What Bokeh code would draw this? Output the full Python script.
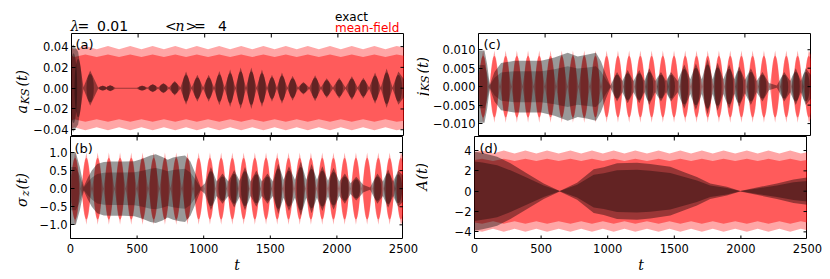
import math
from bokeh.plotting import figure
from bokeh.models import Range1d, FixedTicker, Label
from bokeh.layouts import row, column
from bokeh.embed import file_html
from bokeh.resources import INLINE

# ---------------- data ----------------
X_TICKS = [0, 500, 1000, 1500, 2000, 2500]
X_LABELS = ["0", "500", "1000", "1500", "2000", "2500"]

A_TICKS = [-0.04, -0.02, 0.0, 0.02, 0.04]
A_LABELS = ["\u22120.04", "\u22120.02", "0.00", "0.02", "0.04"]
B_TICKS = [-1.0, -0.5, 0.0, 0.5, 1.0]
B_LABELS = ["\u22121.0", "\u22120.5", "0.0", "0.5", "1.0"]
C_TICKS = [-0.01, -0.005, 0.0, 0.005, 0.01]
C_LABELS = ["\u22120.010", "\u22120.005", "0.000", "0.005", "0.010"]
D_TICKS = [-4, -2, 0, 2, 4]
D_LABELS = ["\u22124", "\u22122", "0", "2", "4"]

# (a) mean-field envelope (ripple)
A_RED_T = [0, 20, 104, 189, 274, 357, 441, 525, 609, 694, 779, 860, 941, 1025, 1109, 1191,
           1274, 1357, 1441, 1525, 1609, 1691, 1774, 1857, 1941, 2022, 2104, 2189, 2274, 2357, 2441, 2500]
A_RED_AMP = [0.039, 0.0375, 0.0405, 0.0375, 0.0405, 0.0375, 0.0405, 0.0375, 0.0405, 0.0375, 0.0405,
             0.0375, 0.0405, 0.0375, 0.0405, 0.0375, 0.0405, 0.0375, 0.0405, 0.0375, 0.0405, 0.0375,
             0.0405, 0.0375, 0.0405, 0.0375, 0.0405, 0.0375, 0.0405, 0.0375, 0.0405, 0.039]
# (a) exact: beat lobes
A_BLK_PEAK_T = [15, 50, 140, 235, 290, 530, 610, 690, 775, 860, 945, 1030, 1110, 1191, 1270, 1350,
                1430, 1505, 1580, 1660, 1741, 1829, 1916, 2010, 2105, 2191, 2279, 2366, 2454]
A_BLK_PEAK_AMP = [0.042, 0.035, 0.017, 0.0025, 0.003, 0.0025, 0.004, 0.005, 0.007, 0.016, 0.013,
                  0.013, 0.0165, 0.018, 0.020, 0.020, 0.018, 0.013, 0.015, 0.012, 0.006, 0.0125,
                  0.0095, 0.010, 0.0115, 0.010, 0.015, 0.019, 0.016]
A_BLK_NODE_T = [0, 90, 200, 262, 330, 420, 490, 570, 650, 732, 818, 902, 988, 1070, 1150, 1230,
                1310, 1390, 1468, 1542, 1620, 1700, 1785, 1872, 1963, 2057, 2148, 2235, 2322, 2410, 2500]
A_BLK_NODE_AMP = [0.040, 0.0008, 0.0006, 0.0008, 0.0005, 0.0005, 0.0005, 0.0006, 0.0006, 0.0006,
                  0.0006, 0.0006, 0.0006, 0.0006, 0.0006, 0.0006, 0.0006, 0.0006, 0.0006, 0.0006,
                  0.0006, 0.0006, 0.0006, 0.0006, 0.0006, 0.0006, 0.0006, 0.0006, 0.0006, 0.0006, 0.008]

# (b),(c) mean-field lobes (shared times)
RED_LOBE_T = [35, 119, 204, 288, 372, 456, 541, 625, 709, 794, 878, 962, 1047, 1131, 1215, 1300,
              1384, 1468, 1552, 1637, 1721, 1805, 1890, 1974, 2058, 2143, 2227, 2311, 2396, 2480]
RED_NODE_T = [0, 77, 161, 246, 330, 414, 498, 583, 667, 751, 836, 920, 1004, 1089, 1173, 1257,
              1342, 1426, 1510, 1594, 1679, 1763, 1847, 1932, 2016, 2100, 2185, 2269, 2353, 2438, 2500]
B_RED_LOBE_AMP = [1.0, 1.0, 1.0, 1.0, 1.0, 1.0, 1.0, 1.0, 1.0, 1.0, 1.0, 1.0, 1.0, 1.0, 1.0,
                  1.0, 1.0, 1.0, 1.0, 1.0, 1.0, 1.0, 1.0, 1.0, 1.0, 1.0, 1.0, 1.0, 1.0, 1.0]
B_RED_NODE_AMP = [0.3, 0, 0, 0, 0, 0, 0, 0, 0, 0, 0, 0, 0, 0, 0, 0, 0, 0, 0, 0, 0, 0, 0, 0, 0,
                  0, 0, 0, 0, 0, 0.85]
C_RED_LOBE_AMP = [0.0098, 0.0098, 0.0098, 0.0098, 0.0098, 0.0098, 0.0098, 0.0098, 0.0098, 0.0098,
                  0.0098, 0.0098, 0.0098, 0.0098, 0.0098, 0.0098, 0.0098, 0.0098, 0.0098, 0.0098,
                  0.0098, 0.0098, 0.0098, 0.0098, 0.0098, 0.0098, 0.0098, 0.0098, 0.0098, 0.0098]
C_RED_NODE_AMP = [0.003, 0, 0, 0, 0, 0, 0, 0, 0, 0, 0, 0, 0, 0, 0, 0, 0, 0, 0, 0, 0, 0, 0, 0, 0,
                  0, 0, 0, 0, 0, 0.0083]

# (b) exact
B_BLK_BAND_T = [0, 40, 70, 100, 130, 160, 200, 250, 300, 400, 480, 540, 600, 640, 690, 730, 770,
                820, 860, 900, 940, 978]
B_BLK_BAND_AMP = [1.0, 1.0, 0.6, 0.06, 0.3, 0.5, 0.68, 0.74, 0.75, 0.75, 0.76, 0.83, 0.92, 0.95,
                  0.88, 0.80, 0.86, 0.90, 0.92, 0.75, 0.40, 0.04]
B_BLK_PEAK_T = [1054, 1141, 1229, 1310, 1395, 1479, 1560, 1640, 1729, 1810, 1891, 1975, 2060, 2145,
                2304, 2385, 2460]
B_BLK_PEAK_AMP = [0.6, 0.42, 0.52, 0.6, 0.5, 0.42, 0.7, 0.62, 0.75, 0.68, 0.62, 0.58, 0.42, 0.33,
                  0.42, 0.53, 0.5]
B_BLK_NODE_T = [1010, 1098, 1185, 1270, 1352, 1437, 1520, 1600, 1685, 1770, 1850, 1933, 2018, 2103,
                2200, 2249, 2345, 2422, 2500]
B_BLK_NODE_AMP = [0.15, 0.2, 0.2, 0.22, 0.2, 0.2, 0.2, 0.25, 0.25, 0.25, 0.25, 0.22, 0.2, 0.15,
                  0.1, 0.03, 0.2, 0.2, 0.35]

# (c) exact
C_BLK_BAND_T = [0, 45, 65, 85, 120, 170, 270, 470, 570, 670, 745, 820, 882, 920, 957, 990]
C_BLK_BAND_AMP = [0.0098, 0.0098, 0.006, 0.0005, 0.004, 0.0064, 0.0070, 0.0070, 0.0079, 0.0092,
                  0.0082, 0.0087, 0.0092, 0.0068, 0.0032, 0.0003]
C_BLK_PEAK_T = [1040, 1120, 1207, 1282, 1370, 1445, 1545, 1632, 1720, 1795, 1882, 1957, 2045, 2132,
                2295, 2382, 2457]
C_BLK_PEAK_AMP = [0.004, 0.0045, 0.0045, 0.005, 0.004, 0.004, 0.006, 0.0063, 0.0075, 0.0065, 0.006,
                  0.0055, 0.005, 0.004, 0.004, 0.005, 0.005]
C_BLK_NODE_T = [1080, 1163, 1245, 1326, 1408, 1495, 1590, 1676, 1758, 1838, 1920, 2000, 2088, 2180,
                2240, 2340, 2420, 2500]
C_BLK_NODE_AMP = [0.0015, 0.0015, 0.0015, 0.0015, 0.0015, 0.0015, 0.002, 0.002, 0.002, 0.002, 0.002,
                  0.0018, 0.0015, 0.001, 0.0003, 0.0015, 0.0015, 0.003]

# (d) mean-field envelope (ripple) and exact envelope
D_RED_T = [0, 57, 139, 220, 301, 382, 464, 545, 632, 720, 801, 882, 964, 1045, 1126, 1207, 1295,
           1382, 1464, 1545, 1626, 1707, 1789, 1870, 1957, 2045, 2126, 2207, 2289, 2370, 2450, 2500]
D_RED_AMP = [3.85, 4.0, 3.7, 4.0, 3.7, 4.0, 3.7, 4.0, 3.7, 4.0, 3.7, 4.0, 3.7, 4.0, 3.7, 4.0, 3.7,
             4.0, 3.7, 4.0, 3.7, 4.0, 3.7, 4.0, 3.7, 4.0, 3.7, 4.0, 3.7, 4.0, 3.7, 3.85]
D_BLK_T = [0, 60, 120, 170, 270, 395, 520, 640, 770, 895, 970, 1070, 1220, 1320, 1470, 1570, 1670,
           1770, 1895, 1995, 2145, 2270, 2395, 2500]
D_BLK_AMP = [3.9, 3.75, 3.57, 3.4, 2.74, 1.75, 0.76, 0.02, 0.83, 2.15, 2.35, 2.74, 2.8, 2.68, 2.4,
             1.9, 1.4, 0.76, 0.43, 0.02, 0.43, 0.76, 1.16, 1.35]

# ---------------- styles ----------------
RED = "#ff0000"
BLK = "#000000"
RED_OUT, RED_CORE = 0.35, 0.45
BLK_OUT, BLK_CORE = 0.40, 0.35
FRAME_W, FRAME_H = 333, 103
TICK_PX = 4
SANS = "DejaVu Sans"
SERIF = "DejaVu Serif"
TICK_FONT = "11.5px"
UP = math.pi / 2

HDR_H = 33    # strip above the top panels
YL_L = 30     # strip holding the left y labels
LEFT_A = 40   # room for the tick labels of (a), (b)
YL_R = 25     # strip holding the right y labels
LEFT_C = 46   # room for the tick labels of (c), (d)


def noalign(p):
    try:
        p.frame_align = False
    except Exception:
        pass
    return p


def merged(*series):
    pts = sorted(p for ts, amps in series for p in zip(ts, amps))
    return [p[0] for p in pts], [p[1] for p in pts]


def band(p, t, amp, color, alpha, scale=1.0):
    p.varea(x=t, y1=[-a * scale for a in amp], y2=[a * scale for a in amp],
            fill_color=color, fill_alpha=alpha)


def cores(p, t, amp, color, alpha, width, scale):
    p.ellipse(x=t, y=[0] * len(t), width=width, height=[2 * a * scale for a in amp],
              fill_color=color, fill_alpha=alpha, line_color=None)


def style_axis(ax, ticks, labels, tick_len):
    ax.ticker = FixedTicker(ticks=ticks)
    ax.major_label_overrides = {k: v for k, v in zip(ticks, labels)}
    ax.major_tick_in = tick_len
    ax.major_tick_out = 0
    ax.minor_tick_in = 0
    ax.minor_tick_out = 0
    ax.major_tick_line_color = "black"
    ax.major_tick_line_width = 1
    ax.axis_line_color = None
    ax.major_label_text_font = SANS
    ax.major_label_text_color = "black"
    ax.major_label_text_font_size = TICK_FONT
    ax.major_label_standoff = 3


def panel(yr, yticks, ylabels, left):
    p = figure(frame_width=FRAME_W, frame_height=FRAME_H,
               x_range=Range1d(0, 2500), y_range=Range1d(*yr),
               x_axis_location=None,
               output_backend="svg", toolbar_location=None,
               min_border_left=left, min_border_right=0,
               min_border_top=0, min_border_bottom=0)
    noalign(p)
    p.grid.visible = False
    p.outline_line_color = "black"
    p.outline_line_width = 1
    p.outline_line_alpha = 1
    p.background_fill_color = "white"
    p.border_fill_color = "white"
    style_axis(p.yaxis[0], yticks, ylabels, TICK_PX)
    return p


def frame_ticks(p, yr, yticks):
    """Inward tick marks on the top, bottom and right edges of the frame."""
    y0, y1 = yr
    n = len(X_TICKS)
    dy = TICK_PX * (y1 - y0) / FRAME_H
    dx = TICK_PX * 2500 / FRAME_W
    p.segment(x0=X_TICKS, x1=X_TICKS, y0=[y1] * n, y1=[y1 - dy] * n, line_color="black", line_width=1)
    p.segment(x0=X_TICKS, x1=X_TICKS, y0=[y0] * n, y1=[y0 + dy] * n, line_color="black", line_width=1)
    m = len(yticks)
    p.segment(x0=[2500] * m, x1=[2500 - dx] * m, y0=yticks, y1=yticks, line_color="black", line_width=1)


def xaxis_fig(left, right):
    f = figure(frame_width=FRAME_W, frame_height=1, x_range=Range1d(0, 2500), y_range=Range1d(0, 1),
               y_axis_location=None, output_backend="svg", toolbar_location=None,
               min_border_left=left, min_border_right=right, min_border_top=0, min_border_bottom=31)
    noalign(f)
    f.grid.visible = False
    f.outline_line_color = None
    f.background_fill_color = "white"
    f.border_fill_color = "white"
    ax = f.xaxis[0]
    style_axis(ax, X_TICKS, X_LABELS, 0)
    ax.major_tick_line_color = None
    ax.major_label_standoff = 3
    ax.axis_label = "t"
    ax.axis_label_text_font = SERIF
    ax.axis_label_text_font_style = "italic"
    ax.axis_label_text_font_size = "14px"
    ax.axis_label_text_color = "black"
    ax.axis_label_standoff = 1
    return f


def text_fig(w, h):
    f = figure(width=w, height=h, x_range=Range1d(0, 1), y_range=Range1d(0, 1),
               x_axis_location=None, y_axis_location=None,
               output_backend="svg", toolbar_location=None,
               min_border_left=0, min_border_right=0, min_border_top=0, min_border_bottom=0)
    noalign(f)
    f.grid.visible = False
    f.outline_line_color = None
    f.background_fill_color = "white"
    f.border_fill_color = "white"
    return f


def lab(p, x, y, text, font=SANS, size="12px", style="normal", color="black",
        angle=0.0, baseline="alphabetic", align="left"):
    p.add_layout(Label(x=x, y=y, x_units="screen", y_units="screen", text=text,
                       text_font=font, text_font_size=size, text_font_style=style,
                       text_color=color, angle=angle, text_baseline=baseline,
                       text_align=align))


def vlab(p, x, y_end, text, size="14px"):
    """Upright-reading (rotated) piece of a y label; y_end is where the piece ends."""
    lab(p, x, y_end, text, font=SERIF, size=size, style="italic", angle=UP, align="right")


A_YR = (-0.0465, 0.0526)
B_YR = (-1.406, 1.444)
C_YR = (-0.0135, 0.0144)
D_YR = (-4.75, 5.38)

# ---------------- panel (a) ----------------
pa = panel(A_YR, A_TICKS, A_LABELS, LEFT_A)
band(pa, A_RED_T, A_RED_AMP, RED, RED_OUT)
band(pa, A_RED_T, A_RED_AMP, RED, RED_CORE, 0.8)
t, a = merged((A_BLK_PEAK_T, A_BLK_PEAK_AMP), (A_BLK_NODE_T, A_BLK_NODE_AMP))
band(pa, t, a, BLK, BLK_OUT)
cores(pa, A_BLK_PEAK_T, A_BLK_PEAK_AMP, BLK, BLK_CORE, 55, 0.8)
frame_ticks(pa, A_YR, A_TICKS)
lab(pa, 4, 99.5, "(a)", size="13px", baseline="top")

# ---------------- panel (b) ----------------
pb = panel(B_YR, B_TICKS, B_LABELS, LEFT_A)
t, a = merged((RED_LOBE_T, B_RED_LOBE_AMP), (RED_NODE_T, B_RED_NODE_AMP))
band(pb, t, a, RED, RED_OUT)
cores(pb, RED_LOBE_T, B_RED_LOBE_AMP, RED, RED_CORE, 58, 0.85)
t, a = merged((B_BLK_BAND_T, B_BLK_BAND_AMP), (B_BLK_PEAK_T, B_BLK_PEAK_AMP),
              (B_BLK_NODE_T, B_BLK_NODE_AMP))
band(pb, t, a, BLK, BLK_OUT)
band(pb, B_BLK_BAND_T, B_BLK_BAND_AMP, BLK, 0.25, 0.6)
cores(pb, B_BLK_PEAK_T, B_BLK_PEAK_AMP, BLK, BLK_CORE, 60, 0.8)
frame_ticks(pb, B_YR, B_TICKS)
lab(pb, 4, 99, "(b)", size="13px", baseline="top")

# ---------------- panel (c) ----------------
pc = panel(C_YR, C_TICKS, C_LABELS, LEFT_C)
t, a = merged((RED_LOBE_T, C_RED_LOBE_AMP), (RED_NODE_T, C_RED_NODE_AMP))
band(pc, t, a, RED, RED_OUT)
cores(pc, RED_LOBE_T, C_RED_LOBE_AMP, RED, RED_CORE, 58, 0.85)
t, a = merged((C_BLK_BAND_T, C_BLK_BAND_AMP), (C_BLK_PEAK_T, C_BLK_PEAK_AMP),
              (C_BLK_NODE_T, C_BLK_NODE_AMP))
band(pc, t, a, BLK, BLK_OUT)
band(pc, C_BLK_BAND_T, C_BLK_BAND_AMP, BLK, 0.25, 0.6)
cores(pc, C_BLK_PEAK_T, C_BLK_PEAK_AMP, BLK, BLK_CORE, 60, 0.8)
frame_ticks(pc, C_YR, C_TICKS)
lab(pc, 5, 99.5, "(c)", size="13px", baseline="top")

# ---------------- panel (d) ----------------
pd_ = panel(D_YR, D_TICKS, D_LABELS, LEFT_C)
band(pd_, D_RED_T, D_RED_AMP, RED, RED_OUT)
band(pd_, D_RED_T, D_RED_AMP, RED, RED_CORE, 0.8)
band(pd_, D_BLK_T, D_BLK_AMP, BLK, BLK_OUT)
band(pd_, D_BLK_T, D_BLK_AMP, BLK, BLK_CORE, 0.75)
frame_ticks(pd_, D_YR, D_TICKS)
lab(pd_, 5, 99, "(d)", size="13px", baseline="top")

# ---------------- header (texts above panel a) ----------------
hdr = text_fig(YL_L + LEFT_A + FRAME_W + YL_R, HDR_H)
lab(hdr, 70, 7.3, "\u03bb", font=SERIF, size="14px", style="italic")
lab(hdr, 77, 7.3, "=", size="14px")
lab(hdr, 96.5, 7.3, "0.01", size="14px")
lab(hdr, 164.5, 7.3, "<", size="14px")
lab(hdr, 175, 7.3, "n", font=SERIF, size="14px", style="italic")
lab(hdr, 185, 7.3, ">", size="14px")
lab(hdr, 193.5, 7.3, "=", size="14px")
lab(hdr, 217.5, 7.3, "4", size="14px")
lab(hdr, 334.5, 16.6, "exact", size="12px", color="black")
lab(hdr, 334.5, 6.0, "mean-field", size="12px", color=RED)

# ---------------- y-axis label strips ----------------
yl_a = text_fig(YL_L, FRAME_H)
vlab(yl_a, 21.5, 31.4, "a")
vlab(yl_a, 24.5, 48, "KS", "11px")
vlab(yl_a, 21.5, 66.5, "(t)")

yl_b = text_fig(YL_L, FRAME_H)
vlab(yl_b, 21.5, 42, "\u03c3")
vlab(yl_b, 24.5, 49, "z", "11px")
vlab(yl_b, 21.5, 66.5, "(t)")

yl_c = text_fig(YL_R, FRAME_H)
vlab(yl_c, 18, 44.5, "j")
vlab(yl_c, 20.5, 61, "KS", "11px")
vlab(yl_c, 18, 79.5, "(t)")

yl_d = text_fig(YL_R, FRAME_H)
vlab(yl_d, 18, 59, "A")
vlab(yl_d, 18, 76.5, "(t)")

# ---------------- x-axis strips (tick labels and t) ----------------
xl_left = xaxis_fig(YL_L + LEFT_A, YL_R)
xl_right = xaxis_fig(LEFT_C, 15)

layout = column(
    hdr,
    row(yl_a, pa, yl_c, pc),
    row(yl_b, pb, yl_d, pd_),
    row(xl_left, xl_right),
)
open("out.html", "w").write(file_html(layout, INLINE))
